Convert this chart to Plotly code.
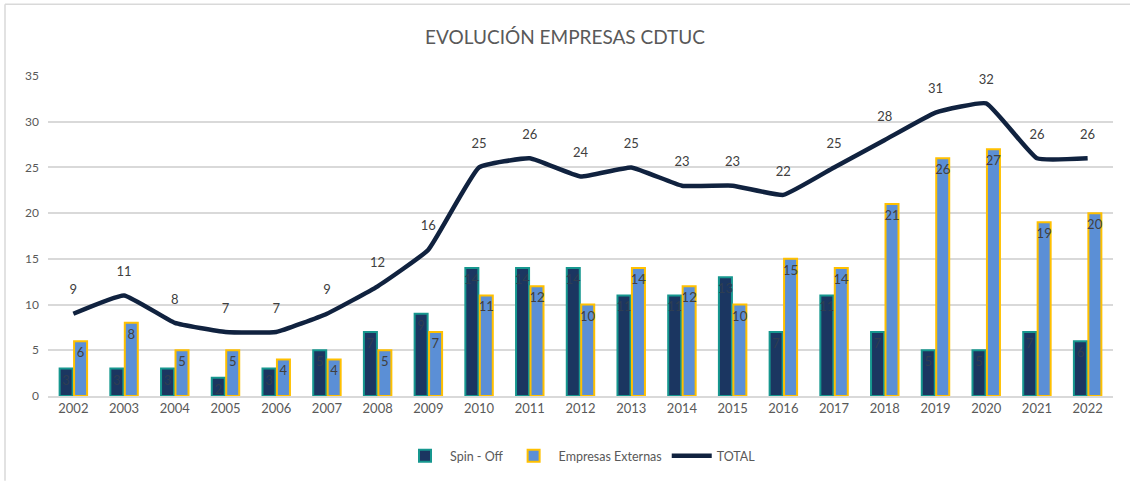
import plotly.graph_objects as go

years = [str(y) for y in range(2002, 2023)]
spin_off = [3, 3, 3, 2, 3, 5, 7, 9, 14, 14, 14, 11, 11, 13, 7, 11, 7, 5, 5, 7, 6]
externas = [6, 8, 5, 5, 4, 4, 5, 7, 11, 12, 10, 14, 12, 10, 15, 14, 21, 26, 27, 19, 20]
total = [9, 11, 8, 7, 7, 9, 12, 16, 25, 26, 24, 25, 23, 23, 22, 25, 28, 31, 32, 26, 26]

FONT = "Lato"
TXT = "#404040"

fig = go.Figure()
fig.add_trace(go.Bar(
    x=years, y=spin_off, name="Spin - Off",
    marker=dict(color="#1b3661", line=dict(color="#16978f", width=2)),
    text=spin_off, textposition="inside", insidetextanchor="end",
    textfont=dict(family=FONT, size=13, color="#2e3e52"),
))
fig.add_trace(go.Bar(
    x=years, y=externas, name="Empresas Externas",
    marker=dict(color="#5b8fd6", line=dict(color="#ffc000", width=2)),
    text=externas, textposition="inside", insidetextanchor="end",
    textfont=dict(family=FONT, size=13, color=TXT),
))
fig.add_trace(go.Scatter(
    x=years, y=total, name="TOTAL", mode="lines+markers+text",
    line=dict(color="#10223f", width=4.5, shape="spline", smoothing=0.35),
    marker=dict(size=24, color="rgba(0,0,0,0)"),
    text=total, textposition="top center", cliponaxis=False,
    textfont=dict(family=FONT, size=13, color=TXT),
))

fig.update_layout(
    width=1130, height=482,
    margin=dict(l=48, r=17, t=76, b=85),
    paper_bgcolor="white", plot_bgcolor="white",
    barmode="group", bargap=0.43, bargroupgap=0.1,
    uniformtext=dict(minsize=13, mode="show"),
    font=dict(family=FONT, color="#595959"),
    title=dict(text="EVOLUCIÓN EMPRESAS CDTUC", x=0.5, xanchor="center",
               y=1 - 37 / 482, yanchor="middle",
               font=dict(family=FONT, size=19, color="#595959")),
    legend=dict(orientation="h", x=0.5, xanchor="center", y=-0.184, yanchor="middle",
                font=dict(family=FONT, size=12.5, color="#595959"), traceorder="normal",
                itemwidth=40),
    showlegend=True,
)
fig.update_xaxes(range=[-0.5, len(years) - 0.5], autorange=False,
                 showgrid=False, showline=True, linecolor="#d9d9d9", linewidth=1.5,
                 ticks="", tickfont=dict(family=FONT, size=13, color="#595959"))
fig.update_yaxes(range=[0, 35], dtick=5, showgrid=True, gridcolor="#d9d9d9", gridwidth=1.5,
                 zeroline=False, ticks="", tickfont=dict(family=FONT, size=12, color="#595959"),
                 ticklabelstandoff=8, automargin=False)

# chart frame (top and left edges visible in reference)
W = 1130 - 48 - 17
H = 482 - 76 - 85
fig.add_shape(type="line", xref="paper", yref="paper",
              x0=(5 - 48) / W, x1=(1130 - 48) / W, y0=(397 - 4) / H, y1=(397 - 4) / H,
              line=dict(color="#d9d9d9", width=1.5))
fig.add_shape(type="line", xref="paper", yref="paper",
              x0=(5 - 48) / W, x1=(5 - 48) / W, y0=(397 - 4) / H, y1=(397 - 482) / H,
              line=dict(color="#d9d9d9", width=1.5))

fig.write_html("out.html", config={"displayModeBar": False},
               post_script="document.body.style.margin='0';document.body.style.overflow='hidden';")
